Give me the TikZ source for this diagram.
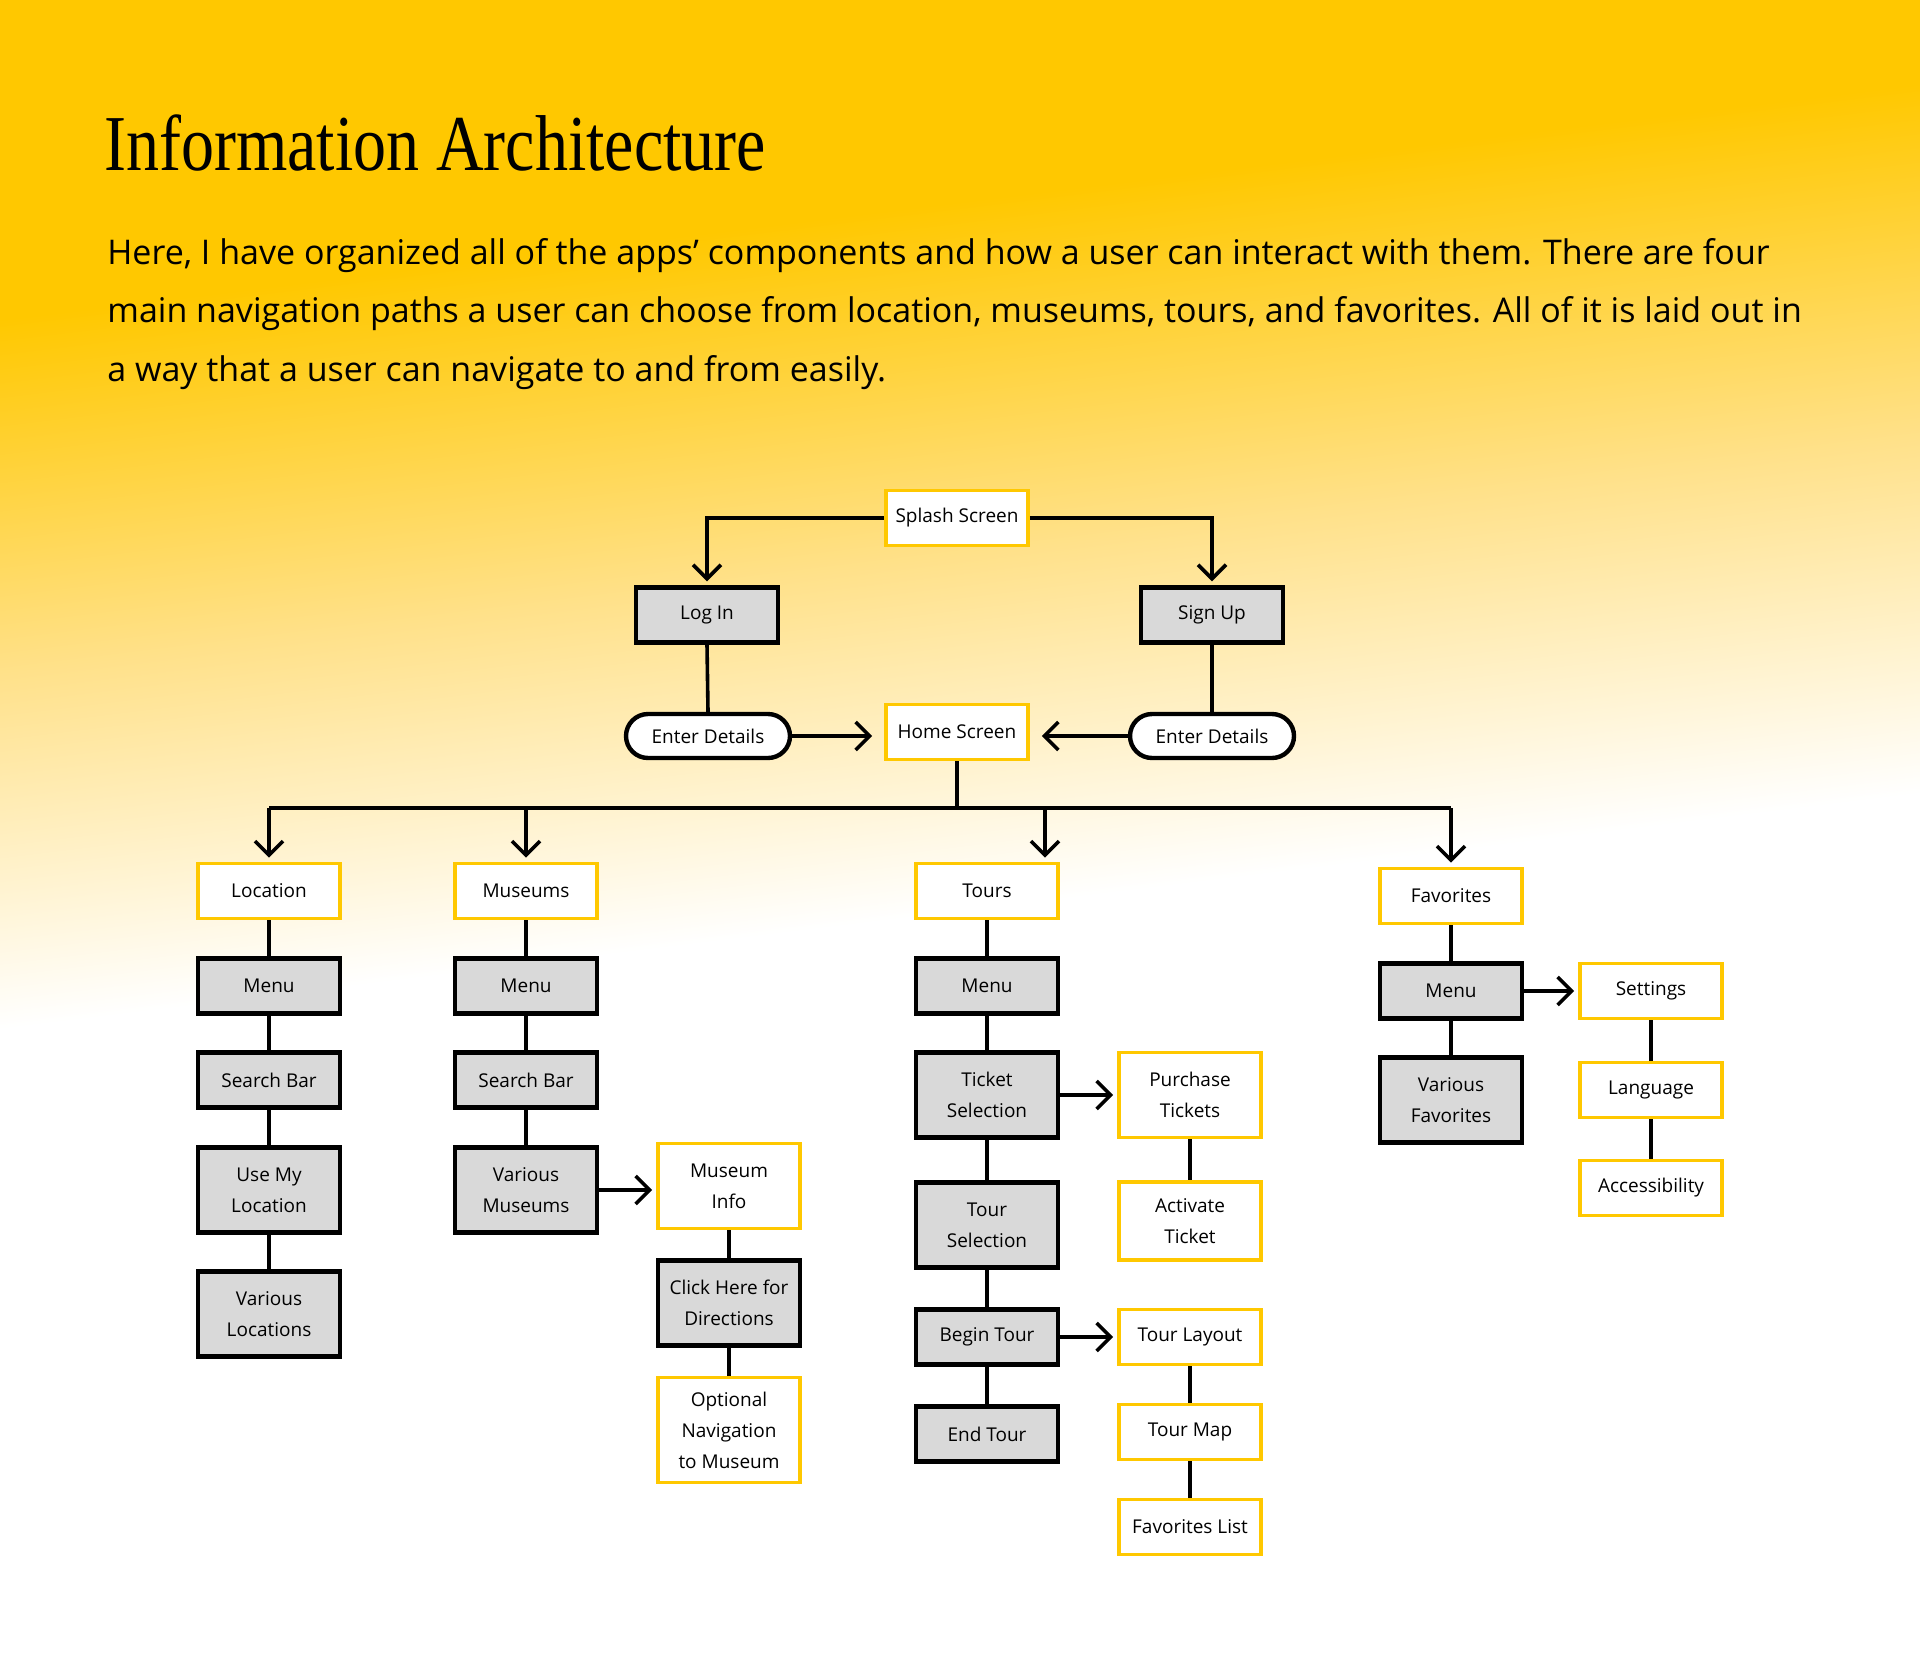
\documentclass[tikz,border=0pt]{standalone}
\usepackage{fontspec}
\usepackage{graphicx}
\setmainfont{Open Sans}
\newfontfamily\titlefont{Liberation Serif}
\usetikzlibrary{arrows.meta,positioning,calc}
\definecolor{iaYellow}{RGB}{255,200,0}
\definecolor{iaMid}{RGB}{255,225,138}
\definecolor{iaGrey}{RGB}{217,217,217}
\pgfdeclareverticalshading{iabg}{100bp}{color(0bp)=(white); color(47.5bp)=(white); color(54.9bp)=(iaMid); color(62.3bp)=(iaYellow); color(100bp)=(iaYellow)}

\begin{document}
\begin{tikzpicture}[x=0.5pt, y=-0.5pt,
    box/.style={minimum width=71pt, minimum height=27.5pt, inner sep=2pt, align=center,
                font=\fontsize{9.5}{15.5}\selectfont},
    ybox/.style={box, draw=iaYellow, line width=1.8pt, fill=white},
    gbox/.style={box, draw=black, line width=2.2pt, fill=iaGrey},
    two/.style={minimum height=42.5pt},
    three/.style={minimum height=52.5pt},
    pill/.style={box, draw=black, line width=2.2pt, fill=white, rounded corners=11pt,
                 minimum width=82pt, minimum height=22pt},
    link/.style={line width=1.8pt},
    arr/.style={link, -{Straight Barb[length=7pt, width=14pt]}, shorten >=2pt}]
  \useasboundingbox (0,0) rectangle (1920,1670);
  % Background, tilted fade
  \begin{scope}
    \clip (0,0) rectangle (1920,1670);
    \fill[white] (0,0) rectangle (1920,1670);
    \begin{scope}[transform canvas={rotate around={7:(960,557)}}]
      \shade[shading=iabg] (-300,-400) rectangle (2220,1980);
    \end{scope}
  \end{scope}
  % Heading and intro
  \node[anchor=base west, inner sep=0pt, font=\titlefont\fontsize{33}{33}\selectfont] (title) at (104,170)
    {\scalebox{1}[1.2]{Information Architecture}};
  \node[anchor=base west, inner sep=0pt, align=left, font=\fontsize{17}{29.2}\selectfont] (intro) at (107,381)
    {Here, I have organized all of the apps’ components and how a user can interact with them. There are four\\
     main navigation paths a user can choose from location, museums, tours, and favorites. All of it is laid out in\\
     a way that a user can navigate to and from easily.};

  % Entry
  \node[ybox] (splash) at (957,518) {Splash Screen};
  \node[gbox] (login) at (707,615) {Log In};
  \node[gbox] (signup) at (1212,615) {Sign Up};
  \node[pill] (enterL) at (708,736) {Enter Details};
  \node[pill] (enterR) at (1212,736) {Enter Details};
  \node[ybox] (home) at (957,732) {Home Screen};
  \draw[arr] (splash.west) -| (login.north);
  \draw[arr] (splash.east) -| (signup.north);
  \draw[link] (login.south) -- (enterL.north);
  \draw[link] (signup.south) -- (enterR.north);
  \draw[arr, shorten >=6pt] (enterL.east) -- (enterL.east -| home.west);
  \draw[arr, shorten >=6pt] (enterR.west) -- (enterR.west -| home.east);

  % Location
  \node[ybox] (location) at (269,891) {Location};
  \node[gbox] (lmenu) at (269,986) {Menu};
  \node[gbox] (lsearch) at (269,1080) {Search Bar};
  \node[gbox, two] (lmyloc) at (269,1190) {Use My\\Location};
  \node[gbox, two] (lvarious) at (269,1314) {Various\\Locations};

  % Museums
  \node[ybox] (museums) at (526,891) {Museums};
  \node[gbox] (mmenu) at (526,986) {Menu};
  \node[gbox] (msearch) at (526,1080) {Search Bar};
  \node[gbox, two] (mvarious) at (526,1190) {Various\\Museums};
  \node[ybox, two] (minfo) at (729,1186) {Museum\\Info};
  \node[gbox, two] (mclick) at (729,1303) {Click Here for\\Directions};
  \node[ybox, three] (moptional) at (729,1430) {Optional\\Navigation\\to Museum};

  % Tours
  \node[ybox] (tours) at (987,891) {Tours};
  \node[gbox] (tmenu) at (987,986) {Menu};
  \node[gbox, two] (tticket) at (987,1095) {Ticket\\Selection};
  \node[gbox, two] (tselect) at (987,1225) {Tour\\Selection};
  \node[gbox] (tbegin) at (987,1337) {Begin Tour};
  \node[gbox] (tend) at (987,1434) {End Tour};
  \node[ybox, two] (tpurchase) at (1190,1095) {Purchase\\Tickets};
  \node[ybox, two, minimum height=39pt] (tactivate) at (1190,1221) {Activate\\Ticket};
  \node[ybox] (tlayout) at (1190,1337) {Tour Layout};
  \node[ybox] (tmap) at (1190,1432) {Tour Map};
  \node[ybox] (tfavlist) at (1190,1527) {Favorites List};

  % Favorites
  \node[ybox] (favorites) at (1451,896) {Favorites};
  \node[gbox] (fmenu) at (1451,991) {Menu};
  \node[gbox, two] (fvarious) at (1451,1100) {Various\\Favorites};
  \node[ybox] (fsettings) at (1651,991) {Settings};
  \node[ybox] (flang) at (1651,1090) {Language};
  \node[ybox] (faccess) at (1651,1188) {Accessibility};

  % Branches from home
  \coordinate (hub) at (959,808);
  \coordinate (tdrop) at (1045,808);
  \draw[link] (home.south) -- (home.south |- hub);
  \draw[link] (location |- hub) -- (favorites |- hub);
  \foreach \n in {location, museums, favorites}
    \draw[arr] (\n |- hub) -- (\n.north);
  \draw[arr] (tdrop) -- (tdrop |- tours.north);

  % Columns
  \foreach \a/\b in {location/lmenu, lmenu/lsearch, lsearch/lmyloc, lmyloc/lvarious,
                     museums/mmenu, mmenu/msearch, msearch/mvarious, minfo/mclick, mclick/moptional,
                     tours/tmenu, tmenu/tticket, tticket/tselect, tselect/tbegin, tbegin/tend,
                     tpurchase/tactivate, tlayout/tmap, tmap/tfavlist,
                     favorites/fmenu, fmenu/fvarious, fsettings/flang, flang/faccess}
    \draw[link] (\a) -- (\b);
  \foreach \a/\b in {mvarious/minfo, tticket/tpurchase, tbegin/tlayout, fmenu/fsettings}
    \draw[arr] (\a.east) -- (\a.east -| \b.west);
\end{tikzpicture}
\end{document}
